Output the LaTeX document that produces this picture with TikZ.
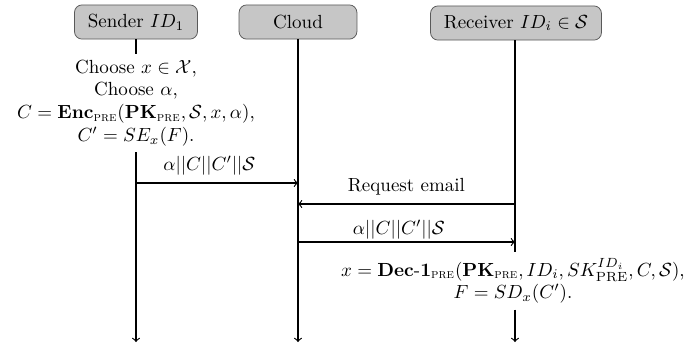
\documentclass[tikz,border=0pt]{standalone}
\usepackage{amsmath}
\usepackage{amssymb}

\newcommand{\pre}{\text{\textsc{pre}}}

\begin{document}
\begin{tikzpicture}[x=0.0185cm,y=-0.0185cm,
        party/.style={draw=gray!70!black,fill=gray!45,rounded corners=4pt,minimum width=62pt,minimum height=18pt,inner xsep=7pt},
        life/.style={semithick},
        msg/.style={semithick,->},
        calc/.style={align=center,inner sep=3pt}]

    \useasboundingbox (0,0) rectangle (692,345);

    % parties
    \node[party] (snd) at (136,22) {Sender $ID_1$};
    \node[party] (cld) at (298,22) {Cloud};
    \node[party] (rcv) at (516,23) {Receiver $ID_i\in\mathcal{S}$};

    % local computations
    \node[calc] (enc) at (136,103) {Choose $x\in\mathcal{X}$,\\ Choose $\alpha$,\\
        $C=\mathbf{Enc}_{\pre}(\mathbf{PK}_{\pre},\mathcal{S},x,\alpha)$,\\ $C'=SE_x(F)$.};
    \node[calc] (dec) at (513,281) {$x=\mathbf{Dec\text{-}1}_{\pre}(\mathbf{PK}_{\pre},ID_i,SK^{ID_i}_{\mathrm{PRE}},C,\mathcal{S})$,\\
        $F=SD_x(C')$.};

    % ends of the lifelines
    \coordinate (sndend) at (136,342);
    \coordinate (cldend) at (298,342);
    \coordinate (rcvend) at (515,342);

    % lifelines
    \draw[life] (snd.south) -- (enc.north);
    \draw[life,->] (enc.south) -- (sndend);
    \draw[life,->] (cld.south) -- (cldend);
    \draw[life] (rcv.south -| rcvend) -- (dec.north -| rcvend);
    \draw[life,->] (dec.south -| rcvend) -- (rcvend);

    % messages
    \coordinate (m1s) at (136,183);
    \coordinate (m1c) at (298,183);
    \coordinate (m2r) at (515,204);
    \coordinate (m2c) at (298,204);
    \coordinate (m3c) at (298,242);
    \coordinate (m3r) at (515,242);

    \draw[msg] (m1s) -- node[above=0.5pt,xshift=-4pt] (l1) {$\alpha||C||C'||\mathcal{S}$} (m1c);
    \draw[msg] (m2r) -- node[above=1pt] (l2) {Request email} (m2c);
    \draw[msg] (m3c) -- node[above=-2pt,xshift=-4pt] (l3) {$\alpha||C||C'||\mathcal{S}$} (m3r);
\end{tikzpicture}
\end{document}
